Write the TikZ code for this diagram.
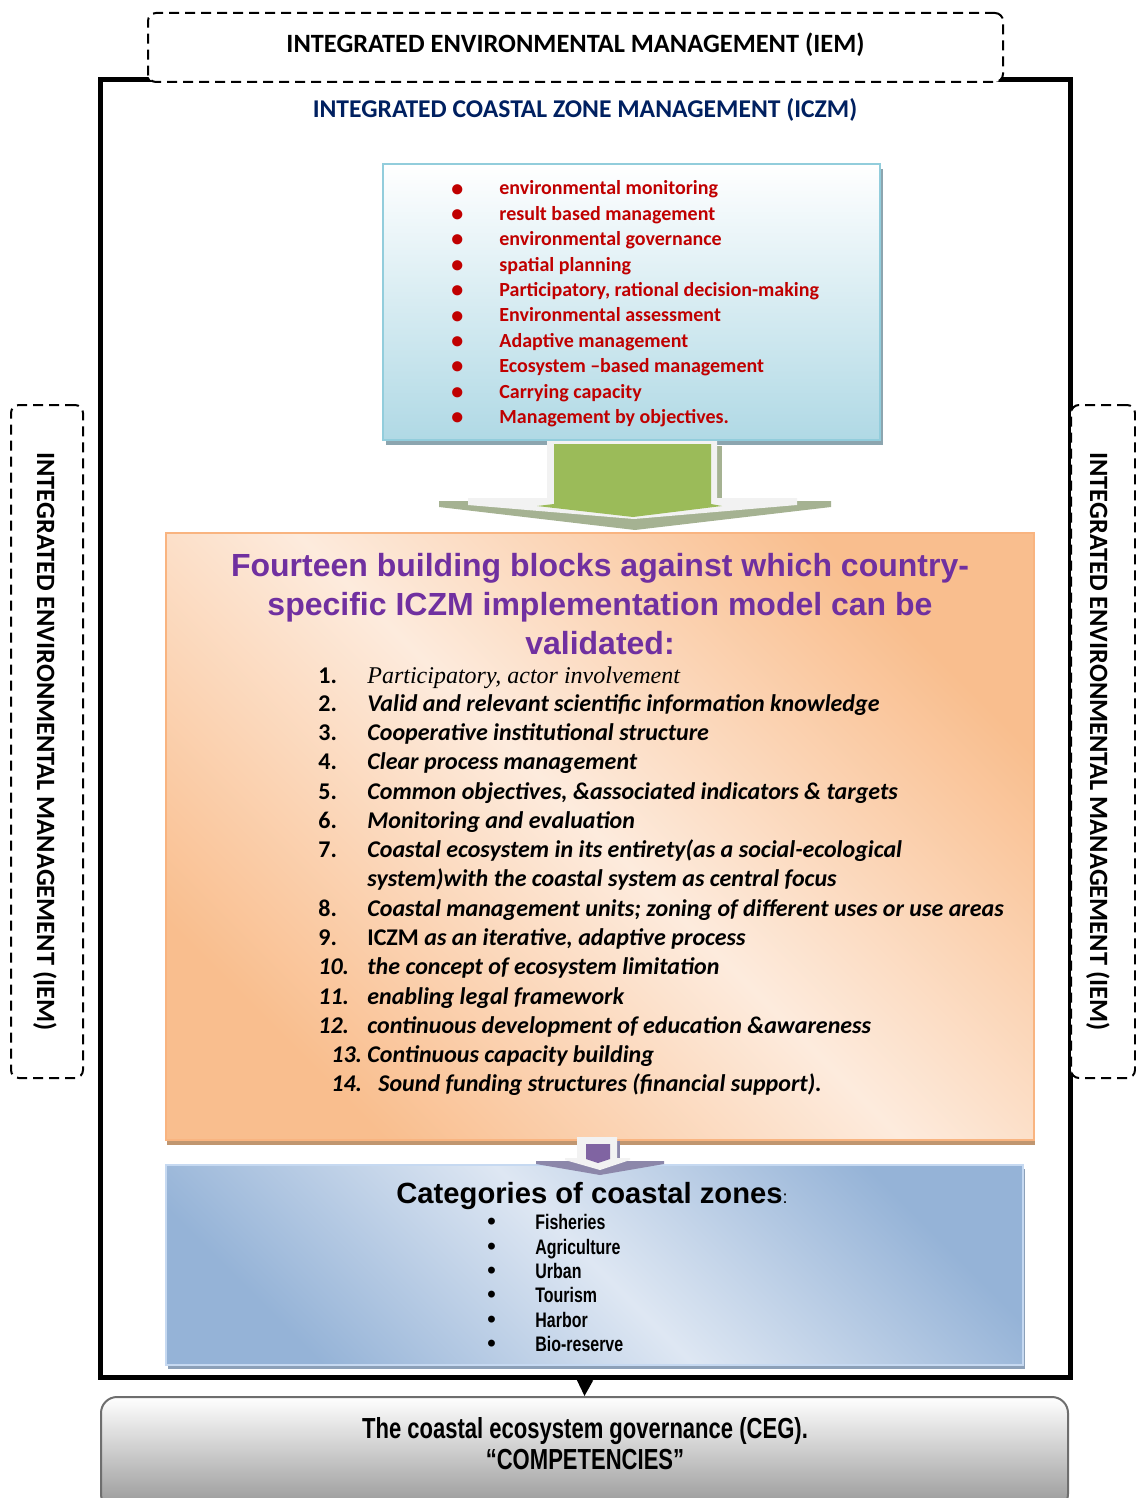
\documentclass[tikz,border=0pt]{standalone}
\usepackage{fontspec}
\setmainfont{Carlito}
\newfontfamily\arialfont{Liberation Sans}
\newfontfamily\narrowfont[FakeStretch=0.76]{Liberation Sans}
\newfontfamily\timesfont{Liberation Serif}
\usetikzlibrary{arrows.meta,shadows}

\definecolor{iczmblue}{RGB}{0,32,96}
\definecolor{itemred}{RGB}{192,0,0}
\definecolor{titlepurple}{RGB}{112,48,160}
\definecolor{arrowgreen}{RGB}{155,187,89}
\definecolor{arrowpurple}{RGB}{128,100,162}
\definecolor{arrowwhite}{RGB}{242,242,242}
\definecolor{greenshadow}{RGB}{165,178,146}
\definecolor{purpleshadow}{RGB}{140,135,170}
\definecolor{toolsborder}{RGB}{146,205,220}
\definecolor{toolsfill}{RGB}{176,217,229}
\definecolor{toolsshadow}{RGB}{140,165,175}
\definecolor{blockorange}{RGB}{249,190,142}
\definecolor{blocklight}{RGB}{253,235,221}
\definecolor{blockborder}{RGB}{249,180,128}
\definecolor{blockshadow}{RGB}{192,150,112}
\definecolor{zoneblue}{RGB}{149,179,215}
\definecolor{zonelight}{RGB}{222,231,243}
\definecolor{zoneborder}{RGB}{198,217,241}
\definecolor{zoneshadow}{RGB}{140,160,184}
\definecolor{cegborder}{RGB}{110,110,110}
\definecolor{cegfill}{RGB}{150,150,150}

\newcommand{\redbullet}{\raisebox{-0.6pt}{\fontsize{12}{12}\selectfont•}}
\newcommand{\zonebullet}{{\arialfont\fontsize{12}{12}\selectfont•}}

\tikzset{
  dashbox/.style={draw, dash pattern=on 5pt off 3pt, line width=1pt,
    rounded corners=4pt, fill=white, inner sep=0pt},
  iemlabel/.style={font=\fontsize{13.2}{15}\selectfont\bfseries},
  toolsbox/.style={draw=toolsborder, line width=1pt, top color=white,
    bottom color=toolsfill, inner sep=0pt,
    drop shadow={shadow xshift=1.5pt, shadow yshift=-2.5pt, fill=toolsshadow, opacity=1}},
  blockbox/.style={draw=blockborder, line width=1pt, left color=blockorange,
    right color=blockorange, middle color=blocklight, shading angle=135, inner sep=0pt,
    drop shadow={shadow xshift=0.5pt, shadow yshift=-2.5pt, fill=blockshadow, opacity=1}},
  zonebox/.style={draw=zoneborder, line width=1pt, left color=zoneblue,
    right color=zoneblue, middle color=zonelight, shading angle=135, inner sep=0pt,
    drop shadow={shadow xshift=1pt, shadow yshift=-2pt, fill=zoneshadow, opacity=1}},
  cegbox/.style={draw=cegborder, line width=1pt, rounded corners=8pt,
    top color=white, bottom color=cegfill, inner sep=0pt},
  toolline/.style={anchor=west, inner sep=0pt, text height=1.5ex, text depth=.25ex,
    text=itemred, font=\fontsize{10}{12}\selectfont\bfseries},
  blockline/.style={anchor=west, inner sep=0pt, text height=1.5ex, text depth=.25ex,
    font=\fontsize{12}{14}\selectfont\bfseries\itshape},
  zoneline/.style={anchor=west, inner sep=0pt, text height=1.5ex, text depth=.25ex,
    font=\narrowfont\fontsize{10.5}{12}\selectfont\bfseries},
}

\begin{document}
\begin{tikzpicture}[x=0.5pt,y=-0.5pt]
  \useasboundingbox (0,0) rectangle (1135,1498);

  % frame and IEM boxes
  \node[draw, line width=2.5pt, minimum width=485pt, minimum height=648.5pt, inner sep=0pt] (frame) at (585,728.5) {};
  \node[dashbox, minimum width=427.5pt, minimum height=34.5pt] (iemtop) at (575.5,47.5) {};
  \node[iemlabel] (iemtoptext) at (575.5,44.5) {INTEGRATED ENVIRONMENTAL MANAGEMENT (IEM)};
  \node[dashbox, minimum width=36pt, minimum height=336.5pt] (iemleft) at (47,741.5) {};
  \node[iemlabel, rotate=-90] (iemlefttext) at (45,741.5) {INTEGRATED ENVIRONMENTAL MANAGEMENT (IEM)};
  \node[dashbox, minimum width=32pt, minimum height=336.5pt] (iemright) at (1103,741.5) {};
  \node[iemlabel, rotate=-90] (iemrighttext) at (1098,741.5) {INTEGRATED ENVIRONMENTAL MANAGEMENT (IEM)};

  \node[text=iczmblue, font=\fontsize{12.8}{15}\selectfont\bfseries] (iczm) at (585,110) {INTEGRATED COASTAL ZONE MANAGEMENT (ICZM)};

  % tools box
  \node[toolsbox, minimum width=248.5pt, minimum height=138pt] (tools) at (631.5,302) {};
  \node[toolline] (tool1) at (451,189) {\makebox[24pt][l]{\redbullet}environmental monitoring};
  \node[toolline] (tool2) at (451,214.4) {\makebox[24pt][l]{\redbullet}result based management};
  \node[toolline] (tool3) at (451,239.8) {\makebox[24pt][l]{\redbullet}environmental governance};
  \node[toolline] (tool4) at (451,265.2) {\makebox[24pt][l]{\redbullet}spatial planning};
  \node[toolline] (tool5) at (451,290.6) {\makebox[24pt][l]{\redbullet}Participatory, rational decision-making};
  \node[toolline] (tool6) at (451,316) {\makebox[24pt][l]{\redbullet}Environmental assessment};
  \node[toolline] (tool7) at (451,341.4) {\makebox[24pt][l]{\redbullet}Adaptive management};
  \node[toolline] (tool8) at (451,366.8) {\makebox[24pt][l]{\redbullet}Ecosystem –based management};
  \node[toolline] (tool9) at (451,392.2) {\makebox[24pt][l]{\redbullet}Carrying capacity};
  \node[toolline] (tool10) at (451,417.6) {\makebox[24pt][l]{\redbullet}Management by objectives.};

  % building blocks box
  \node[blockbox, minimum width=434pt, minimum height=303.5pt] (blocks) at (600,836.5) {};
  \node[align=center, text=titlepurple, font=\arialfont\fontsize{16}{19.5}\selectfont\bfseries] (blockstitle) at (600,604)
    {Fourteen building blocks against which country-\\specific ICZM implementation model can be\\validated:};
  \node[blockline] (block1) at (318,678) {\makebox[24.5pt][l]{\upshape 1.}{\timesfont\mdseries Participatory, actor involvement}};
  \node[blockline] (block2) at (318,706) {\makebox[24.5pt][l]{\upshape 2.}Valid and relevant scientific information knowledge};
  \node[blockline] (block3) at (318,735) {\makebox[24.5pt][l]{\upshape 3.}Cooperative institutional structure};
  \node[blockline] (block4) at (318,764) {\makebox[24.5pt][l]{\upshape 4.}Clear process management};
  \node[blockline] (block5) at (318,794) {\makebox[24.5pt][l]{\upshape 5.}Common objectives, \&associated indicators \& targets};
  \node[blockline] (block6) at (318,823) {\makebox[24.5pt][l]{\upshape 6.}Monitoring and evaluation};
  \node[blockline] (block7) at (318,852) {\makebox[24.5pt][l]{\upshape 7.}Coastal ecosystem in its entirety(as a social-ecological};
  \node[blockline] (block7b) at (367,881) {system)with the coastal system as central focus};
  \node[blockline] (block8) at (318,911) {\makebox[24.5pt][l]{\upshape 8.}Coastal management units; zoning of different uses or use areas};
  \node[blockline] (block9) at (318,940) {\makebox[24.5pt][l]{\upshape 9.}{\upshape ICZM} as an iterative, adaptive process};
  \node[blockline] (block10) at (318,969) {\makebox[24.5pt][l]{10.}the concept of ecosystem limitation};
  \node[blockline] (block11) at (318,999) {\makebox[24.5pt][l]{11.}enabling legal framework};
  \node[blockline] (block12) at (318,1028) {\makebox[24.5pt][l]{12.}continuous development of education \&awareness};
  \node[blockline] (block13) at (331,1057) {\makebox[18pt][l]{13.}Continuous capacity building};
  \node[blockline] (block14) at (331,1086) {\makebox[23.5pt][l]{14.}Sound funding structures (financial support).};

  % coastal zones box
  \node[zonebox, minimum width=428.5pt, minimum height=100pt] (zones) at (594.5,1265) {};
  \node[font=\arialfont\fontsize{14.6}{17}\selectfont\bfseries] (zonestitle) at (592,1196)
    {Categories of coastal zones{\mdseries\fontsize{9}{10}\selectfont:}};
  \node[zoneline] (zone1) at (487,1224) {\makebox[24pt][l]{\zonebullet}Fisheries};
  \node[zoneline] (zone2) at (487,1249) {\makebox[24pt][l]{\zonebullet}Agriculture};
  \node[zoneline] (zone3) at (487,1273) {\makebox[24pt][l]{\zonebullet}Urban};
  \node[zoneline] (zone4) at (487,1297) {\makebox[24pt][l]{\zonebullet}Tourism};
  \node[zoneline] (zone5) at (487,1322) {\makebox[24pt][l]{\zonebullet}Harbor};
  \node[zoneline] (zone6) at (487,1346) {\makebox[24pt][l]{\zonebullet}Bio-reserve};

  % governance box
  \node[cegbox, minimum width=483.5pt, minimum height=56.5pt] (ceg) at (584.5,1453.5) {};
  \node[align=center, font=\narrowfont\fontsize{14.5}{15.5}\selectfont\bfseries] (cegtext) at (585,1443.5)
    {The coastal ecosystem governance (CEG).\\“COMPETENCIES”};

  % block arrows
  \begin{scope}[shift={(tools.south)}]
    \fill[greenshadow] (-192.5,60) -- (199.5,60) -- (199.5,66) -- (3.5,89) -- (-192.5,66) -- cycle;
    \fill[greenshadow] (85.5,5) -- (90.5,5) -- (90.5,60) -- (85.5,60) -- cycle;
    \fill[arrowwhite] (-84.5,0) -- (85.5,0) -- (85.5,57) -- (165.5,57) -- (165.5,64) -- (2.5,78)
      -- (-163.5,64) -- (-163.5,57) -- (-84.5,57) -- cycle;
    \fill[arrowgreen] (-77.5,3) -- (79.5,3) -- (79.5,63) -- (90.5,65) -- (1.5,76) -- (-94.5,65) -- (-77.5,63) -- cycle;
  \end{scope}
  \begin{scope}[shift={(blocks.south)}]
    \fill[purpleshadow] (-64,20) -- (64,20) -- (64,23) -- (0,34) -- (-64,23) -- cycle;
    \fill[purpleshadow] (17,0) -- (20,0) -- (20,17) -- (17,17) -- cycle;
    \fill[arrowwhite] (-23,-4) -- (17,-4) -- (17,17) -- (30,17) -- (30,19) -- (0,29) -- (-35,19) -- (-35,17) -- (-23,17) -- cycle;
    \fill[arrowpurple] (-14,3) -- (10,3) -- (10,18) -- (-2,22) -- (-14,18) -- cycle;
  \end{scope}

  % arrow
  \draw[-{Triangle[length=8pt,width=8pt]}, line width=1pt] (frame.south) -- (ceg.north);

\end{tikzpicture}
\end{document}
